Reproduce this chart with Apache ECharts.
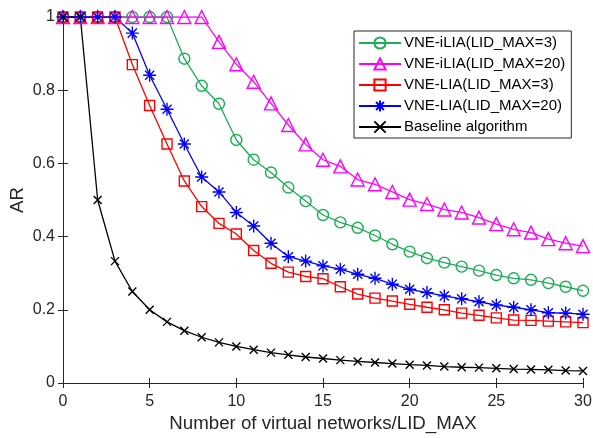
<!DOCTYPE html>
<html><head><meta charset="utf-8">
<script src="https://cdn.jsdelivr.net/npm/echarts@6/dist/echarts.min.js"></script>
<style>html,body{margin:0;padding:0;background:#fff}#c{width:593px;height:438px}</style>
</head><body><div id="c"></div>
<script>
const xValues = [0,1,2,3,4,5,6,7,8,9,10,11,12,13,14,15,16,17,18,19,20,21,22,23,24,25,26,27,28,29,30];
const xTicks = [0,5,10,15,20,25,30];
const yTicks = [0,0.2,0.4,0.6,0.8,1];
const seriesNames = ['VNE-iLIA(LID_MAX=3)','VNE-iLIA(LID_MAX=20)','VNE-LIA(LID_MAX=3)','VNE-LIA(LID_MAX=20)','Baseline algorithm'];
const iliaLid3 = [1,1,1,1,1,1,1,0.886,0.812,0.763,0.664,0.610,0.575,0.534,0.497,0.459,0.439,0.424,0.403,0.379,0.359,0.341,0.329,0.318,0.307,0.295,0.286,0.282,0.273,0.263,0.252];
const iliaLid20 = [1,1,1,1,1,1,1,1,1,0.932,0.871,0.823,0.764,0.705,0.652,0.610,0.592,0.556,0.543,0.522,0.501,0.489,0.474,0.466,0.452,0.434,0.420,0.411,0.393,0.382,0.374];
const liaLid3 = [1,1,1,1,0.870,0.758,0.653,0.552,0.482,0.436,0.407,0.362,0.327,0.303,0.291,0.285,0.263,0.243,0.232,0.224,0.215,0.207,0.200,0.191,0.185,0.178,0.172,0.171,0.169,0.167,0.165];
const liaLid20 = [1,1,1,1,0.956,0.841,0.748,0.653,0.563,0.522,0.466,0.429,0.382,0.345,0.333,0.320,0.311,0.297,0.286,0.270,0.256,0.247,0.238,0.230,0.222,0.213,0.207,0.200,0.192,0.191,0.188];
const baseline = [1,1,0.5,0.333,0.25,0.2,0.167,0.143,0.125,0.111,0.1,0.091,0.083,0.077,0.071,0.067,0.0625,0.059,0.056,0.053,0.05,0.048,0.045,0.043,0.042,0.04,0.038,0.037,0.036,0.034,0.033];

const colors = ['#1aae55','#ff00ff','#ff0000','#0000ff','#000000'];
const starPath = 'path://M5 0 L5 10 M0 5 L10 5 M1.5 1.5 L8.5 8.5 M1.5 8.5 L8.5 1.5';
const xPath = 'path://M0 0 L10 10 M0 10 L10 0';
const AX = '#262626';
const FONT = 'Liberation Sans, Arial, Helvetica, sans-serif';

function mk(name, data, color, symbol, size, fillOpen) {
  return {
    name: name, type: 'line', data: xValues.map((x, i) => [x, data[i]]),
    symbol: symbol, symbolSize: size, showAllSymbol: true,
    lineStyle: {color: color, width: 1.3},
    itemStyle: {color: fillOpen ? 'rgba(255,255,255,0)' : color, borderColor: color, borderWidth: 1.4},
    emphasis: {disabled: true}, animation: false, z: 3
  };
}

const chart = echarts.init(document.getElementById('c'), null, {renderer: 'canvas'});
const axisCommon = {
  type: 'value', axisLine: {show: true, lineStyle: {color: AX, width: 1}},
  axisTick: {show: true, inside: true, length: 5, lineStyle: {color: AX}},
  splitLine: {show: false}
};
chart.setOption({
  animation: false,
  backgroundColor: '#fff',
  grid: {left: 63, right: 10, top: 17, bottom: 55, containLabel: false, outerBoundsMode: 'none'},
  legend: {
    data: seriesNames, orient: 'vertical', left: 354, top: 31,
    width: 215, padding: [4.5, 6, 3.5, 4], itemGap: 6, itemWidth: 42, itemHeight: 14,
    backgroundColor: '#fff', borderColor: AX, borderWidth: 1,
    textStyle: {fontFamily: FONT, fontSize: 15, color: '#000', padding: [0, 0, 0, -2]},
    selectedMode: false
  },
  xAxis: [
    Object.assign({}, axisCommon, {
      min: 0, max: 30, interval: 5, position: 'bottom',
      axisLabel: {color: AX, fontFamily: FONT, fontSize: 16, margin: 11,
        formatter: v => xTicks.includes(v) ? String(v) : ''},
      name: 'Number of virtual networks/LID_MAX', nameLocation: 'middle', nameGap: 31, nameMoveOverlap: false,
      nameTextStyle: {color: AX, fontFamily: FONT, fontSize: 18.7}
    }),
    Object.assign({}, axisCommon, {min: 0, max: 30, interval: 5, position: 'top', axisLabel: {show: false}})
  ],
  yAxis: [
    Object.assign({}, axisCommon, {
      min: 0, max: 1, interval: 0.2, position: 'left',
      axisLabel: {color: AX, fontFamily: FONT, fontSize: 16, margin: 8,
        formatter: v => { const t = yTicks.find(k => Math.abs(k - v) < 1e-9); return t === undefined ? '' : String(t); }},
      name: 'AR', nameLocation: 'middle', nameGap: 36, nameMoveOverlap: false,
      nameTextStyle: {color: AX, fontFamily: FONT, fontSize: 18.7}
    }),
    Object.assign({}, axisCommon, {min: 0, max: 1, interval: 0.2, position: 'right', axisLabel: {show: false}})
  ],
  series: [
    mk(seriesNames[0], iliaLid3, colors[0], 'circle', 11, true),
    mk(seriesNames[1], iliaLid20, colors[1], 'triangle', 13, true),
    mk(seriesNames[2], liaLid3, colors[2], 'rect', 10, true),
    mk(seriesNames[3], liaLid20, colors[3], starPath, 13, false),
    mk(seriesNames[4], baseline, colors[4], xPath, 8, false)
  ]
});
</script></body></html>
